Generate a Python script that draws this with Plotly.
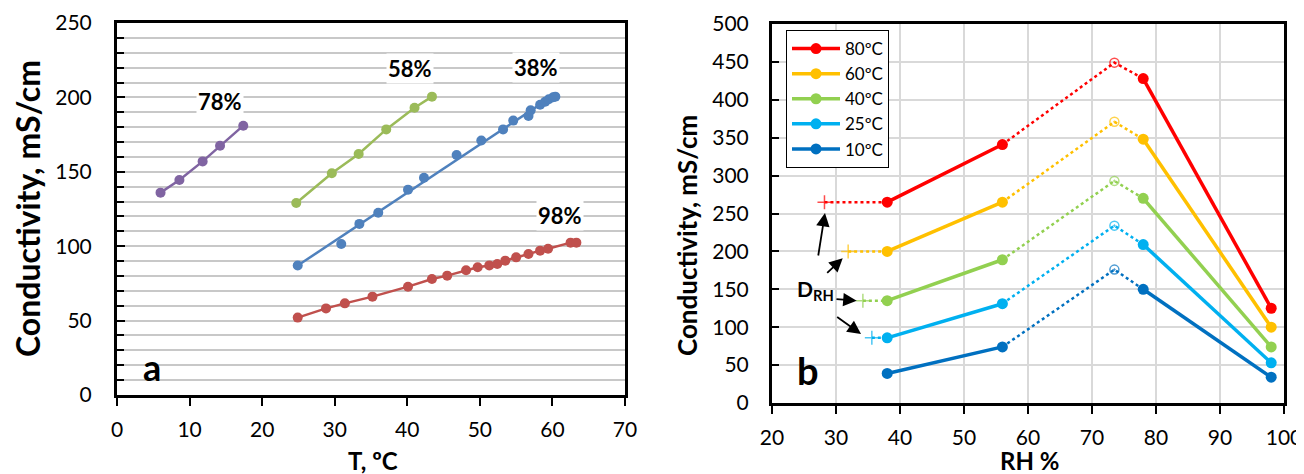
import numpy as np
import plotly.graph_objects as go

# ---------------- Panel a data ----------------
t78 = [6.0, 8.6, 11.8, 14.2, 17.4]
c78 = [136, 144.5, 157, 167.5, 181]
t58 = [24.7, 29.6, 33.3, 37.1, 41.0, 43.4]
c58 = [129, 149, 162, 178.5, 193, 200.5]
t38 = [24.9, 30.9, 33.4, 36.0, 40.1, 42.3, 46.8, 50.2, 53.2, 54.6, 56.7, 57.0, 58.3, 59.0, 59.5, 60.1, 60.4]
c38 = [87, 101.5, 115, 122.5, 138, 146, 161.3, 171, 178.5, 184.4, 187.5, 191.3, 195.1, 197.1, 198.7, 200.1, 200.5]
t98 = [24.9, 28.8, 31.4, 35.2, 40.1, 43.4, 45.5, 48.1, 49.7, 51.3, 52.4, 53.5, 55.0, 56.7, 58.3, 59.4, 62.5, 63.3]
c98 = [52, 58.2, 61.6, 66.1, 72.8, 78, 80.2, 83.8, 85.8, 87.1, 88, 90.3, 92.5, 94.8, 97, 98.3, 102.4, 102.4]
labels_a = ["78%", "58%", "38%", "98%"]
label_x = [14.2, 40.4, 57.7, 61.0]
label_y = [197, 219.5, 220, 120.5]

# ---------------- Panel b data ----------------
rh = [38, 56, 73.5, 78, 98]
temps = ["80ºC", "60ºC", "40ºC", "25ºC", "10ºC"]
c80 = [265, 341, 449, 428, 125]
c60 = [200, 265, 371, 348, 100]
c40 = [135, 189, 293, 270, 74]
c25 = [86, 131, 234, 209, 53]
c10 = [39, 74, 176, 150, 34]
drh_x = [28.2, 31.9, 34.2, 35.6, None]
drh_c = [265, 200, 135, 86, None]

FONT = "Lato"
OFF = 8  # page body margin offset
W, H = 1304 - OFF, 474 - OFF

fig = go.Figure()

# ---- panel a traces ----
cols_a = ["#8064A2", "#9BBB59", "#4F81BD", "#C0504D"]
for tx, cy, col in [(t78, c78, cols_a[0]), (t58, c58, cols_a[1]), (t98, c98, cols_a[3])]:
    fig.add_trace(go.Scatter(x=tx, y=cy, mode="lines+markers", xaxis="x", yaxis="y",
                             line=dict(color=col, width=2.5), marker=dict(size=10, color=col),
                             showlegend=False))
# blue: markers with linear trend line
p = np.polyfit(t38, c38, 1)
tl = [min(t38), max(t38)]
fig.add_trace(go.Scatter(x=tl, y=list(np.polyval(p, tl)), mode="lines", xaxis="x", yaxis="y",
                         line=dict(color=cols_a[2], width=2.5), showlegend=False))
fig.add_trace(go.Scatter(x=t38, y=c38, mode="markers", xaxis="x", yaxis="y",
                         marker=dict(size=10, color=cols_a[2]), showlegend=False))

# ---- panel b traces ----
cols_b = ["#FF0000", "#FFC000", "#92D050", "#00B0F0", "#0070C0"]
series_b = [c80, c60, c40, c25, c10]
for i, (name, cy, col) in enumerate(zip(temps, series_b, cols_b)):
    g = "g%d" % i
    fig.add_trace(go.Scatter(x=rh[0:2], y=cy[0:2], mode="lines+markers", xaxis="x2", yaxis="y2",
                             name=name, legendgroup=g, showlegend=True,
                             line=dict(color=col, width=3.5), marker=dict(size=11, color=col)))
    fig.add_trace(go.Scatter(x=rh[1:4], y=cy[1:4], mode="lines+markers", xaxis="x2", yaxis="y2",
                             legendgroup=g, showlegend=False,
                             line=dict(color=col, width=2.5, dash="dot"),
                             marker=dict(size=[0, 9, 0], symbol="circle-open-dot", color=col,
                                         line=dict(width=1.5, color=col))))
    fig.add_trace(go.Scatter(x=rh[3:5], y=cy[3:5], mode="lines+markers", xaxis="x2", yaxis="y2",
                             legendgroup=g, showlegend=False,
                             line=dict(color=col, width=3.5), marker=dict(size=11, color=col)))
    if drh_x[i] is not None:
        fig.add_trace(go.Scatter(x=[drh_x[i], rh[0]], y=[drh_c[i], cy[0]], mode="lines+markers",
                                 xaxis="x2", yaxis="y2", legendgroup=g, showlegend=False,
                                 line=dict(color=col, width=2.5, dash="dot"),
                                 marker=dict(size=[10, 0], symbol="cross-thin", color=col,
                                             line=dict(width=1.5, color=col))))

# ---- helpers: screen pixel -> paper ----
def px(xs):
    return (xs - OFF) / W

def py(ys):
    return 1 - (ys - OFF) / H

def dx(a, b):
    return [px(a), px(b)]

def dy(top, bottom):
    return [py(bottom), py(top)]

tickfont = dict(family=FONT, size=21, color="#000000")
axis_line = dict(showline=True, linecolor="#000000", linewidth=3, mirror=True, zeroline=False,
                 automargin=False)

fig.update_layout(
    width=W, height=H, margin=dict(l=0, r=0, t=0, b=0, autoexpand=False),
    paper_bgcolor="white", plot_bgcolor="white",
    font=dict(family=FONT, color="#000000"),
    xaxis=dict(domain=dx(117, 625), range=[0, 70], dtick=10, ticks="outside", ticklen=8, tickwidth=2,
               tickcolor="#000", showgrid=False, tickfont=tickfont, ticklabelstandoff=6, **axis_line),
    yaxis=dict(domain=dy(23, 395), range=[0, 250], dtick=50, ticks="inside", ticklen=8, tickwidth=2,
               tickcolor="#000", showgrid=True, gridcolor="#C8C8C8", gridwidth=1.5,
               minor=dict(dtick=10, ticks="inside", ticklen=7, tickwidth=2, tickcolor="#000",
                          showgrid=True, gridcolor="#C8C8C8", gridwidth=1.5),
               tickfont=tickfont, ticklabelstandoff=18, **axis_line),
    xaxis2=dict(domain=dx(772, 1284), range=[20, 100], dtick=10, ticks="outside", ticklen=8, tickwidth=2,
                tickcolor="#000", showgrid=True, gridcolor="#D9D9D9", gridwidth=1.5,
                tickfont=tickfont, ticklabelstandoff=6, anchor="y2", **axis_line),
    yaxis2=dict(domain=dy(24, 403), range=[0, 500], dtick=50, ticks="inside", ticklen=7, tickwidth=2,
                tickcolor="#000", showgrid=True, gridcolor="#D9D9D9", gridwidth=1.5,
                tickfont=tickfont, ticklabelstandoff=16, anchor="x2", **axis_line),
    legend=dict(x=px(786), y=py(30), xanchor="left", yanchor="top", bgcolor="white",
                bordercolor="#000", borderwidth=1, font=dict(family=FONT, size=17, color="#000"),
                tracegroupgap=0, traceorder="grouped", itemwidth=48),
)

ann = []
# series labels panel a
for txt, lx, ly in zip(labels_a, label_x, label_y):
    ann.append(dict(x=lx, y=ly, xref="x", yref="y", text="<b>%s</b>" % txt, showarrow=False,
                    xanchor="center", yanchor="middle",
                    bgcolor="white", font=dict(family=FONT, size=22, color="#000")))
ann.append(dict(x=4.8, y=19, xref="x", yref="y", text="<b>a</b>", showarrow=False,
                xanchor="center", yanchor="middle", font=dict(family=FONT, size=36, color="#000")))
ann.append(dict(x=25.7, y=44, xref="x2", yref="y2", text="<b>b</b>", showarrow=False,
                xanchor="center", yanchor="middle", font=dict(family=FONT, size=38, color="#000")))
# axis titles
ann.append(dict(x=px(373), y=py(460), xref="paper", yref="paper", text="<b>T, ºC</b>",
                xanchor="center", yanchor="middle", showarrow=False,
                font=dict(family=FONT, size=24, color="#000")))
ann.append(dict(x=px(1029), y=py(460), xref="paper", yref="paper", text="<b>RH %</b>",
                xanchor="center", yanchor="middle", showarrow=False,
                font=dict(family=FONT, size=24, color="#000")))
ann.append(dict(x=px(28), y=py(209), xref="paper", yref="paper", text="<b>Conductivity, mS/cm</b>",
                xanchor="center", yanchor="middle", showarrow=False, textangle=-90,
                font=dict(family=FONT, size=32, color="#000")))
ann.append(dict(x=px(687), y=py(236), xref="paper", yref="paper", text="<b>Conductivity, mS/cm</b>",
                xanchor="center", yanchor="middle", showarrow=False, textangle=-90,
                font=dict(family=FONT, size=26, color="#000")))
# D_RH label and arrows
ann.append(dict(x=26.8, y=149, xref="x2", yref="y2", text="<b>D<sub>RH</sub></b>", showarrow=False,
                xanchor="center", yanchor="middle", font=dict(family=FONT, size=21, color="#000")))
arrows = [((27.19, 192.6), (28.28, 250.7)), ((28.39, 169.8), (31.05, 190.9)),
          ((29.84, 137.2), (33.23, 135.0)), ((29.95, 114.8), (33.91, 91.0))]
for (tx, ty), (hx, hy) in arrows:
    ann.append(dict(x=hx, y=hy, ax=tx, ay=ty, xref="x2", yref="y2", axref="x2", ayref="y2",
                    showarrow=True, arrowhead=2, arrowsize=1.5, arrowwidth=1.8, arrowcolor="#000", text=""))
fig.update_layout(annotations=ann)

fig.write_html("out.html")
